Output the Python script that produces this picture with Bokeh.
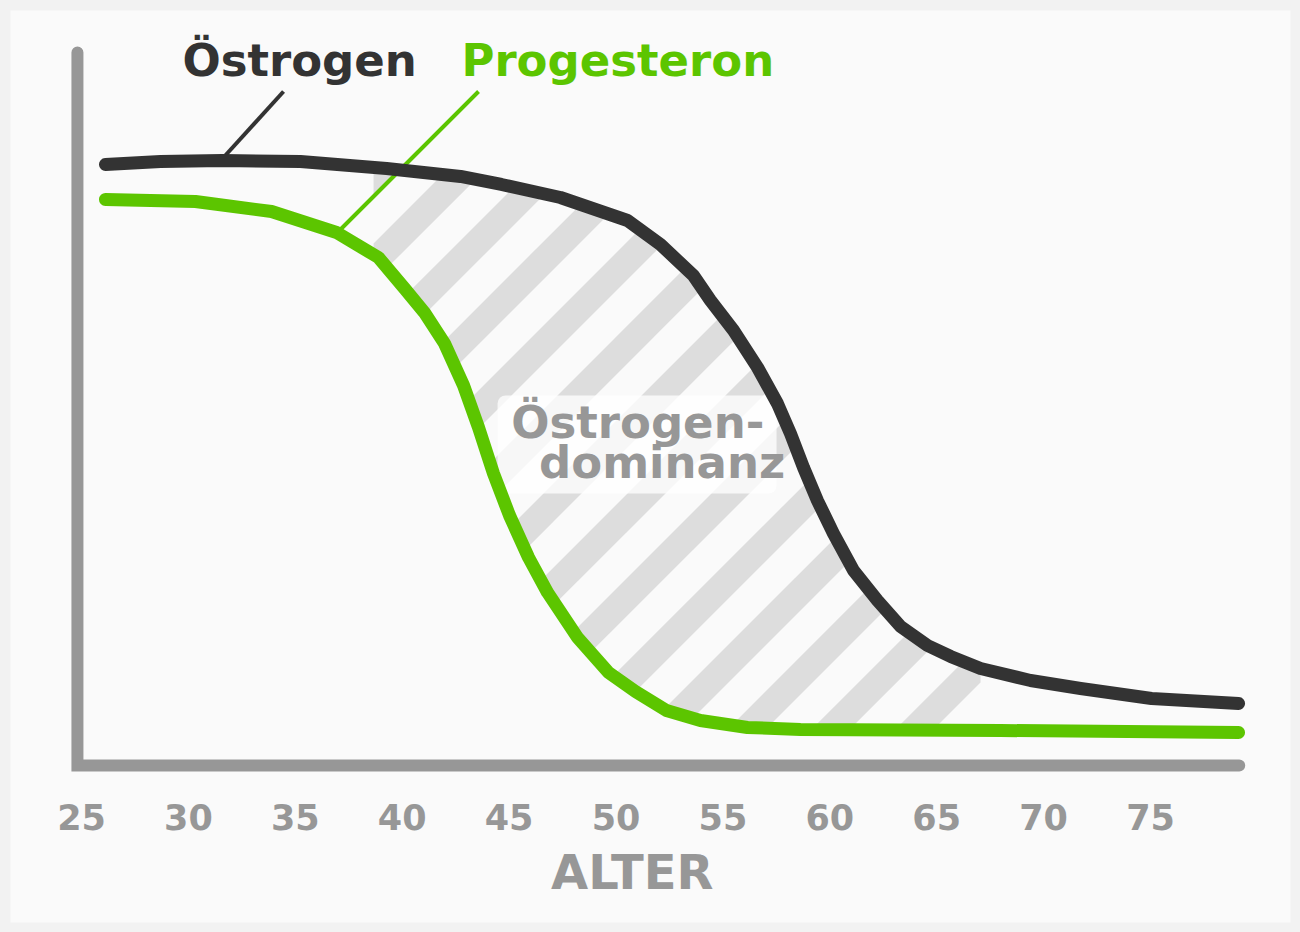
from bokeh.core.properties import value
from bokeh.embed import file_html
from bokeh.models import ColumnDataSource, GlobalInlineStyleSheet, Range1d
from bokeh.plotting import figure
from bokeh.resources import INLINE

# Oestrogen / progesterone levels over age (relative level, 0..100)
AGE_E = [26.12, 28.70, 31.60, 35.24, 39.27, 42.73, 44.64, 47.40, 50.54, 52.08,
         53.62, 54.42, 55.50, 56.62, 57.55, 58.16, 58.77, 59.42, 60.17, 61.11,
         62.23, 63.31, 64.57, 65.65, 67.05, 69.39, 71.73, 75.05, 79.12]
LEVEL_E = [84.29, 84.71, 84.85, 84.71, 83.73, 82.61, 81.49, 79.66, 76.44, 73.07,
           68.72, 65.22, 61.01, 55.82, 50.77, 46.56, 41.80, 37.17, 32.54, 27.35,
           23.14, 19.50, 16.83, 15.29, 13.60, 11.92, 10.80, 9.40, 8.70]

AGE_P = [26.12, 30.33, 33.89, 36.93, 38.89, 40.15, 41.04, 41.98, 42.87, 43.57,
         44.27, 45.02, 45.91, 46.80, 48.20, 49.65, 50.91, 52.36, 53.95, 56.15,
         58.63, 67.98, 79.12]
LEVEL_P = [79.38, 79.10, 77.70, 74.75, 71.25, 66.76, 63.53, 59.19, 53.30, 47.41,
           40.95, 35.06, 29.17, 24.26, 17.95, 13.04, 10.38, 7.71, 6.31, 5.33,
           5.05, 4.91, 4.63]

# hatched "dominance" zone
HATCH_START, HATCH_END = 38.66, 67.05
HATCH_E_EDGES = (83.87, 13.60)   # oestrogen level at start / end
HATCH_P_EDGES = (71.53, 4.95)    # progesterone level at start / end

TICKS = [25, 30, 35, 40, 45, 50, 55, 60, 65, 70, 75]

SERIES = ["Östrogen", "Progesteron"]
SERIES_COLORS = ["#333333", "#5cc500"]
SERIES_LABEL_AGE = [29.72, 42.77]
SERIES_LABEL_LEVEL = [98.87, 98.87]
LEADER_FROM = [(34.45, 94.53), (43.57, 94.53)]
LEADER_TO = [(31.64, 85.27), (37.02, 74.89)]

ZONE_LINES = ["Östrogen-", "dominanz"]
ZONE_AGE = [45.10, 46.40]
ZONE_LEVEL = [48.10, 42.50]
ZONE_BOX = (44.46, 57.51, 38.15, 51.89)  # left, right, bottom, top

AXIS_X = [24.81, 24.81, 79.15]
AXIS_Y = [100, 0, 0]

GREY = "#979797"
FONT = value("DejaVu Sans")

W, H, BORDER = 1300, 932, 10
X0, X1 = 21.679, 81.548
Y0, Y1 = -22.02, 105.89

p = figure(width=W, height=H, x_range=Range1d(X0, X1), y_range=Range1d(Y0, Y1),
           output_backend="svg", toolbar_location=None,
           x_axis_location=None, y_axis_location=None, min_border=BORDER)
p.background_fill_color = "#fafafa"
p.border_fill_color = "#f2f2f2"
p.outline_line_color = None
p.grid.visible = False
p.stylesheets = [GlobalInlineStyleSheet(css="html, body { margin: 0; background: #f2f2f2; overflow: hidden; }")]

# ---- 45 degree stripes clipped to the area between the curves
top = [(a, l) for a, l in zip(AGE_E, LEVEL_E) if HATCH_START < a < HATCH_END]
bot = [(a, l) for a, l in zip(AGE_P, LEVEL_P) if HATCH_START < a < HATCH_END]
region = ([(HATCH_START, HATCH_E_EDGES[0])] + top + [(HATCH_END, HATCH_E_EDGES[1]),
          (HATCH_END, HATCH_P_EDGES[1])] + bot[::-1] + [(HATCH_START, HATCH_P_EDGES[0])])

kx = (W - 2 * BORDER) / (X1 - X0)   # px per year
ky = (H - 2 * BORDER) / (Y1 - Y0)   # px per level unit


def diag(pt):
    # screen x + screen y (y downwards): constant along a "/" stripe
    return (pt[0] - X0) * kx + (Y1 - pt[1]) * ky


def clip(poly, c, sign):
    out = []
    for i in range(len(poly)):
        a, b = poly[i], poly[(i + 1) % len(poly)]
        da, db = sign * (diag(a) - c), sign * (diag(b) - c)
        if da >= 0:
            out.append(a)
        if (da >= 0) != (db >= 0):
            t = da / (da - db)
            out.append((a[0] + t * (b[0] - a[0]), a[1] + t * (b[1] - a[1])))
    return out


STRIPE_OFFSET, STRIPE_PERIOD, STRIPE_WIDTH = 596, 84, 38
sxs, sys_ = [], []
for k in range(-2, 16):
    lo = STRIPE_OFFSET + k * STRIPE_PERIOD
    piece = clip(clip(region, lo, 1), lo + STRIPE_WIDTH, -1)
    if len(piece) > 2:
        sxs.append([q[0] for q in piece])
        sys_.append([q[1] for q in piece])
p.patches(sxs, sys_, fill_color="#dddddd", line_color=None)

# axes
p.line(AXIS_X, AXIS_Y, line_color=GREY, line_width=12,
       line_cap="round", line_join="miter")

# leader lines
for (x0, y0), (x1, y1), c in zip(LEADER_FROM, LEADER_TO, SERIES_COLORS):
    p.line([x0, x1], [y0, y1], line_color=c, line_width=4)

# label box
l, r, b, t = ZONE_BOX
p.quad(left=[l], right=[r], bottom=[b], top=[t], fill_color="white",
       fill_alpha=0.75, line_color=None, border_radius=8)

# curves
p.line(AGE_E, LEVEL_E, line_color=SERIES_COLORS[0], line_width=13,
       line_cap="round", line_join="round")
p.line(AGE_P, LEVEL_P, line_color=SERIES_COLORS[1], line_width=13,
       line_cap="round", line_join="round")

# texts
p.text(x="x", y="y", text="t", text_color="c",
       source=ColumnDataSource(dict(x=SERIES_LABEL_AGE, y=SERIES_LABEL_LEVEL,
                                    t=SERIES, c=SERIES_COLORS)),
       text_font=FONT, text_font_style="bold", text_font_size="45px",
       text_baseline="alphabetic", text_align="left")

p.text(x=ZONE_AGE, y=ZONE_LEVEL, text=ZONE_LINES, text_color=GREY,
       text_font=FONT, text_font_style="bold", text_font_size="45px",
       text_baseline="alphabetic", text_align="left")

p.text(x=TICKS, y=[-7.2] * len(TICKS), text=[str(v) for v in TICKS],
       text_color=GREY, text_font=FONT, text_font_style="bold",
       text_font_size="35px", text_baseline="alphabetic", text_align="center")

p.text(x=[50.76], y=[-15.0], text=["ALTER"], text_color=GREY,
       text_font=FONT, text_font_style="bold",
       text_font_size="48px", text_baseline="alphabetic", text_align="center")

open("out.html", "w").write(file_html(p, INLINE))
